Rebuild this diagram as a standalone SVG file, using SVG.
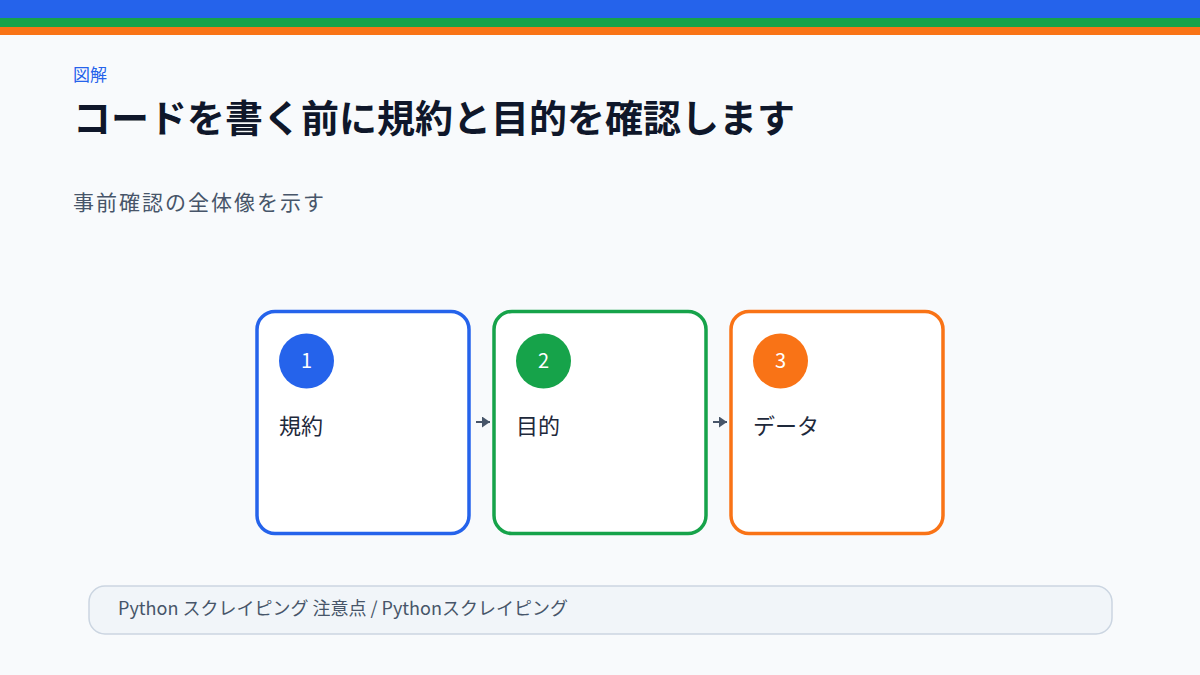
<svg xmlns="http://www.w3.org/2000/svg" width="1200" height="675" viewBox="0 0 1200 675">
<style>
text{font-family:"Noto Sans CJK JP","Noto Sans",sans-serif}
.box{fill:#ffffff;stroke-width:3.5}
.num{fill:#ffffff;font-size:20px;text-anchor:middle}
.lbl{fill:#1e293b;font-size:22px}
.conn{stroke:#475569;stroke-width:2;fill:none}
</style>
<defs>
<marker id="ah" viewBox="0 0 8 11" refX="8" refY="5.5" markerWidth="8" markerHeight="11" orient="auto" markerUnits="userSpaceOnUse">
<path d="M0,0 L8,5.5 L0,11 Z" fill="#475569"/>
</marker>
</defs>
<rect width="1200" height="675" fill="#f8fafc"/>
<rect x="0" y="0" width="1200" height="18" fill="#2563eb"/>
<rect x="0" y="18" width="1200" height="9" fill="#16a34a"/>
<rect x="0" y="27" width="1200" height="8" fill="#f97316"/>
<text x="73" y="81" font-size="17" fill="#2563eb">図解</text>
<text x="73" y="132" font-size="38" font-weight="700" fill="#0f172a">コードを書く前に規約と目的を確認します</text>
<text x="73" y="210" font-size="21" fill="#475569" letter-spacing="2">事前確認の全体像を示す</text>
<g id="connectors">
<line class="conn" x1="476" y1="422" x2="490" y2="422" marker-end="url(#ah)"/>
<line class="conn" x1="713" y1="422" x2="727" y2="422" marker-end="url(#ah)"/>
</g>
<g id="node1">
<rect class="box" x="257" y="311.5" width="212" height="222" rx="18" stroke="#2563eb"/>
<circle cx="306.5" cy="361" r="27.5" fill="#2563eb"/>
<text class="num" x="306.5" y="368">1</text>
<text class="lbl" x="279" y="434">規約</text>
</g>
<g id="node2">
<rect class="box" x="494" y="311.5" width="212" height="222" rx="18" stroke="#16a34a"/>
<circle cx="543.5" cy="361" r="27.5" fill="#16a34a"/>
<text class="num" x="543.5" y="368">2</text>
<text class="lbl" x="516" y="434">目的</text>
</g>
<g id="node3">
<rect class="box" x="731" y="311.5" width="212" height="222" rx="18" stroke="#f97316"/>
<circle cx="780.5" cy="361" r="27.5" fill="#f97316"/>
<text class="num" x="780.5" y="368">3</text>
<text class="lbl" x="753" y="434">データ</text>
</g>
<g id="footer">
<rect x="89" y="586" width="1023" height="48" rx="16" fill="#f1f5f9" stroke="#cbd5e1" stroke-width="1.5"/>
<text x="118" y="615" font-size="18" fill="#475569">Python スクレイピング 注意点 / Pythonスクレイピング</text>
</g>
</svg>
